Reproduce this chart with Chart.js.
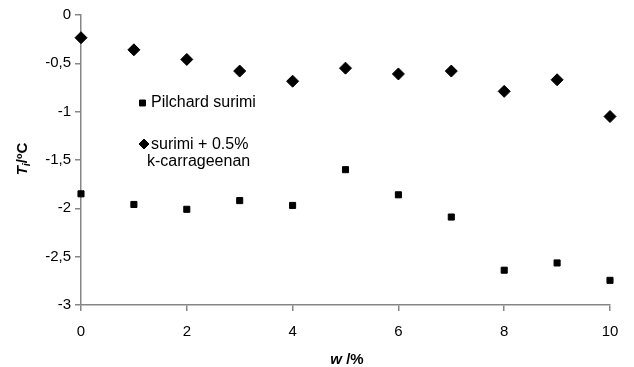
<!DOCTYPE html>
<html>
<head>
<meta charset="utf-8">
<script src="https://cdn.jsdelivr.net/npm/chart.js@4"></script>
<style>
  html, body { margin: 0; padding: 0; background: #fff; }
  #chart { display: block; }
</style>
</head>
<body>
<canvas id="chart" width="634" height="367"></canvas>
<script>
// values
const wValues = [0, 1, 2, 3, 4, 5, 6, 7, 8, 9, 10];
const pilchardSurimi = [-1.85, -1.96, -2.01, -1.92, -1.97, -1.60, -1.86, -2.09, -2.64, -2.565, -2.745];
const surimiCarrageenan = [-0.235, -0.36, -0.46, -0.58, -0.685, -0.55, -0.61, -0.58, -0.79, -0.67, -1.05];
const seriesLabels = ['Pilchard surimi', ['surimi + 0.5%', 'k-carrageenan']];

const FONT = '"Liberation Sans", Arial, sans-serif';
const AXIS_GREY = '#868686';

const toPoints = (ys) => wValues.map((x, i) => ({ x: x, y: ys[i] }));

// axis titles with italic symbols and subscript
const axisTitles = {
  id: 'axisTitles',
  afterDraw(chart) {
    const ctx = chart.ctx;
    ctx.save();
    ctx.fillStyle = '#000';
    ctx.textBaseline = 'alphabetic';

    // x title: w /%
    const xParts = [
      { t: 'w', f: 'italic bold 15px ' + FONT },
      { t: ' /%', f: 'bold 15px ' + FONT }
    ];
    let total = 0;
    xParts.forEach(p => { ctx.font = p.f; p.w = ctx.measureText(p.t).width; total += p.w; });
    let x = 347 - total / 2;
    xParts.forEach(p => { ctx.font = p.f; ctx.fillText(p.t, x, 364); x += p.w; });

    // y title: T_i/ºC rotated
    const yParts = [
      { t: 'T', f: 'italic bold 15px ' + FONT, dy: 0 },
      { t: 'i', f: 'italic bold 11px ' + FONT, dy: 3 },
      { t: '/ºC', f: 'bold 15px ' + FONT, dy: 0 }
    ];
    total = 0;
    yParts.forEach(p => { ctx.font = p.f; p.w = ctx.measureText(p.t).width; total += p.w; });
    ctx.translate(27, 159);
    ctx.rotate(-Math.PI / 2);
    x = -total / 2;
    yParts.forEach(p => { ctx.font = p.f; ctx.fillText(p.t, x, p.dy); x += p.w; });
    ctx.restore();
  }
};

// legend drawn inside the plot area
const innerLegend = {
  id: 'innerLegend',
  afterDraw(chart) {
    const ctx = chart.ctx;
    const rows = [
      { ds: 0, mx: 142.5, my: 103, tx: 151, ty: 103, radius: 4.2 },
      { ds: 1, mx: 144, my: 144, tx: 151, ty: 145, radius: 5 }
    ];
    ctx.save();
    ctx.font = '16px ' + FONT;
    ctx.textBaseline = 'middle';
    rows.forEach(r => {
      const ds = chart.data.datasets[r.ds];
      ctx.fillStyle = '#000';
      ctx.strokeStyle = '#000';
      ctx.lineWidth = 1;
      Chart.helpers.drawPoint(ctx, { pointStyle: ds.pointStyle, radius: r.radius, borderWidth: 1 }, r.mx, r.my);
      ctx.fill();
      const lines = [].concat(seriesLabels[r.ds]);
      lines.forEach((line, i) => {
        ctx.fillText(line, i === 0 ? r.tx : r.tx - 4, r.ty + i * 17);
      });
    });
    ctx.restore();
  }
};

new Chart(document.getElementById('chart'), {
  type: 'scatter',
  data: {
    datasets: [
      {
        label: 'Pilchard surimi',
        data: toPoints(pilchardSurimi),
        pointStyle: 'rect',
        radius: 4.3,
        backgroundColor: '#000',
        borderColor: '#000',
        borderWidth: 1,
        clip: false
      },
      {
        label: 'surimi + 0.5% k-carrageenan',
        data: toPoints(surimiCarrageenan),
        pointStyle: 'rectRot',
        radius: 6,
        backgroundColor: '#000',
        borderColor: '#000',
        borderWidth: 1,
        clip: false
      }
    ]
  },
  options: {
    responsive: false,
    animation: false,
    devicePixelRatio: 1,
    layout: { padding: { top: 15, right: 24, left: 0, bottom: 0 } },
    plugins: {
      legend: { display: false },
      tooltip: { enabled: false }
    },
    scales: {
      x: {
        type: 'linear',
        min: 0,
        max: 10,
        afterFit: (s) => { s.height = 62; },
        ticks: {
          stepSize: 2,
          color: '#000',
          padding: 12,
          font: { family: FONT, size: 15 }
        },
        grid: {
          drawOnChartArea: false,
          drawTicks: true,
          tickLength: 6,
          color: AXIS_GREY,
          lineWidth: 1.5
        },
        border: { display: true, color: AXIS_GREY, width: 1.5 }
      },
      y: {
        type: 'linear',
        min: -3,
        max: 0,
        afterFit: (s) => { s.width = 81; },
        ticks: {
          stepSize: 0.5,
          color: '#000',
          padding: 4,
          font: { family: FONT, size: 15 },
          callback: (v) => String(v).replace('.', ',')
        },
        grid: {
          drawOnChartArea: false,
          drawTicks: true,
          tickLength: 6,
          color: AXIS_GREY,
          lineWidth: 1.5
        },
        border: { display: true, color: AXIS_GREY, width: 1.5 }
      }
    }
  },
  plugins: [axisTitles, innerLegend]
});
</script>
</body>
</html>
